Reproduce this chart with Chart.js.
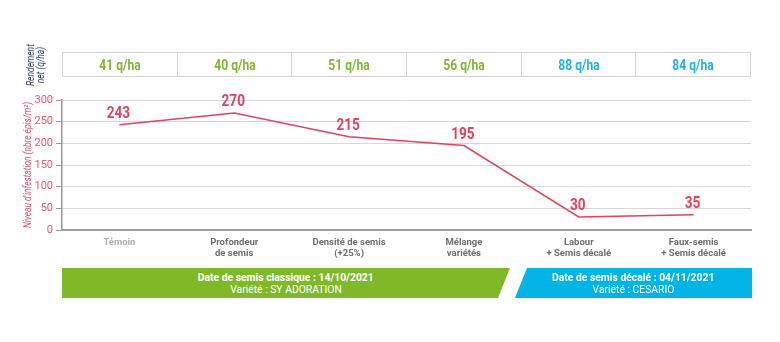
<!DOCTYPE html>
<html><head><meta charset="utf-8">
<script src="https://cdn.jsdelivr.net/npm/chart.js@4"></script>
<style>
html,body{margin:0;padding:0;background:#fff;}
#wrap{position:relative;width:780px;height:342px;overflow:hidden;font-family:'Roboto',sans-serif;}
#c{position:absolute;left:0;top:0;}
#ytitle2{position:absolute;left:36px;top:65px;transform:translate(-50%,-50%) rotate(-90deg) scaleX(0.85);color:#1f3557;font-style:italic;font-size:10px;line-height:10px;text-align:center;white-space:nowrap;}
#table{position:absolute;left:62px;top:52px;width:689px;height:25px;border:1px solid #d6d6d6;box-sizing:border-box;display:flex;}
#table div{flex:1;border-left:1px solid #d6d6d6;display:flex;align-items:center;justify-content:center;font-weight:bold;font-size:14px;}
#table div span{display:inline-block;transform:scaleX(0.86);}
#table div:first-child{border-left:none;}
.ban{position:absolute;top:268px;height:30px;color:#fff;font-size:11.5px;line-height:12.5px;text-align:center;display:flex;flex-direction:column;justify-content:center;align-items:center;}
.ban span{display:inline-block;transform:scaleX(0.9);white-space:nowrap;}
.ban span:first-child{font-weight:bold;}
#b1{left:62px;width:448px;background:#80b927;clip-path:polygon(0 0,100% 0,calc(100% - 12px) 100%,0 100%);}
#b2{left:515px;width:237px;background:#00b5e6;clip-path:polygon(12px 0,100% 0,100% 100%,0 100%);}
</style></head>
<body>
<div id="wrap">
<canvas id="c" width="780" height="342"></canvas>
<div id="ytitle2">Rendement<br>net (q/ha)</div>
<div id="table"></div>
<div class="ban" id="b1"></div>
<div class="ban" id="b2"></div>
</div>
<script>
const categories = [["Témoin"],["Profondeur","de semis"],["Densité de semis","(+25%)"],["Mélange","variétés"],["Labour","+ Semis décalé"],["Faux-semis","+ Semis décalé"]];
const infestation = [243,270,215,195,30,35];
const yieldValues = [41,40,51,56,88,84];
const sowingGroup = ["classique","classique","classique","classique","décalé","décalé"];
const yTicks = [0,50,100,150,200,250,300];
const yTitle = "Niveau d'infestation (nbre épis/m²)";
const banner1 = ["Date de semis classique : 14/10/2021","Variété : SY ADORATION"];
const banner2 = ["Date de semis décalé : 04/11/2021","Variété : CESARIO"];

const groupColor = {"classique":"#7db832","décalé":"#1cb4e8"};
const RED = "#e8425a";
const FONT = "'Roboto',sans-serif";

const table = document.getElementById('table');
yieldValues.forEach((v,i)=>{
  const d=document.createElement('div');
  const s=document.createElement('span');
  s.textContent = v + " q/ha";
  d.style.color = groupColor[sowingGroup[i]];
  d.appendChild(s);
  table.appendChild(d);
});
[["b1",banner1],["b2",banner2]].forEach(([id,lines])=>{
  const el=document.getElementById(id);
  lines.forEach(t=>{const s=document.createElement('span');s.textContent=t;el.appendChild(s);});
});

const labelPlugin = {
  id:'vals',
  afterDatasetsDraw(chart){
    const ctx=chart.ctx;
    const meta=chart.getDatasetMeta(0);
    ctx.save();
    ctx.fillStyle=RED;
    ctx.font="bold 16px "+FONT;
    ctx.textAlign='center';
    ctx.textBaseline='middle';
    meta.data.forEach((p,i)=>{
      ctx.save();
      ctx.translate(p.x-1, p.y-11);
      ctx.scale(0.85,1);
      ctx.fillText(String(infestation[i]), 0, 0);
      ctx.restore();
    });
    // y axis title
    const ys=chart.scales.y;
    ctx.save();
    ctx.fillStyle="#ea4a60";
    ctx.translate(28,(ys.top+ys.bottom)/2);
    ctx.rotate(-Math.PI/2);
    ctx.scale(0.84,1);
    ctx.font="italic 10px "+FONT;
    ctx.fillText(yTitle,0,0);
    ctx.restore();
    ctx.restore();
  }
};

new Chart(document.getElementById('c'),{
  type:'line',
  data:{labels:categories,datasets:[{data:infestation,borderColor:RED,borderWidth:1.5,pointRadius:0,tension:0,fill:false}]},
  options:{
    responsive:false,animation:false,devicePixelRatio:1,
    layout:{padding:{left:0,top:100,right:29,bottom:0}},
    plugins:{legend:{display:false},tooltip:{enabled:false}},
    scales:{
      y:{
        min:0,max:300,
        afterBuildTicks:(s)=>{s.ticks=yTicks.map(v=>({value:v}));},
        afterFit:(s)=>{s.width=62;},
        ticks:{color:"#ee5468",font:{size:11,family:FONT},padding:3},
        grid:{color:"#d8d8d8",lineWidth:1,tickLength:6,tickColor:"#9a9a9a"},
        border:{color:"#9a9a9a",width:1.5}
      },
      x:{
        offset:true,
        afterFit:(s)=>{s.height=112;},
        grid:{display:true,drawOnChartArea:false,drawTicks:false,color:'rgba(0,0,0,0)'},
        border:{color:"#a0a0a0",width:2},
        ticks:{color:categories.map((c,i)=>i===0?"#b0b0b0":"#6e6e6e"),font:{size:9.5,weight:'bold',family:FONT},padding:7,maxRotation:0,autoSkip:false}
      }
    }
  },
  plugins:[labelPlugin]
});
</script>
</body></html>
